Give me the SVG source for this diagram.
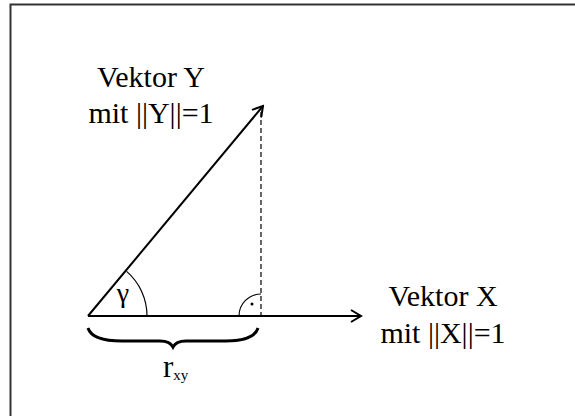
<svg xmlns="http://www.w3.org/2000/svg" width="575" height="416" viewBox="0 0 575 416">
<style>
.t{font-family:"Liberation Serif","Times New Roman",serif;fill:#000;}
.lbl{font-size:30px;text-anchor:middle;}
.vec{stroke:#000;stroke-width:2;fill:none;}
.thin{stroke:#000;stroke-width:1.2;fill:none;}
</style>
<defs>
<marker id="arr" markerWidth="14" markerHeight="14" refX="12" refY="7" orient="auto" markerUnits="userSpaceOnUse">
<path d="M2,1 L12,7 L2,13" fill="none" stroke="#000" stroke-width="2"/>
</marker>
</defs>
<rect width="575" height="416" fill="#fff"/>
<path d="M10.5,416 V4.5 H575" fill="none" stroke="#333" stroke-width="2"/>
<g id="connectors">
<line class="vec" x1="88" y1="316" x2="361" y2="316" marker-end="url(#arr)"/>
<line class="vec" x1="88" y1="316" x2="263" y2="106" marker-end="url(#arr)"/>
<line class="thin" x1="261" y1="112" x2="261" y2="316" stroke-dasharray="5,3"/>
</g>
<g id="angle-gamma">
<path class="thin" d="M147,316 A59,59 0 0 0 126.6,271.4"/>
<text class="t" x="123" y="302" font-size="28" text-anchor="middle">γ</text>
</g>
<g id="right-angle">
<path class="thin" d="M239,316 A22,22 0 0 1 261,294"/>
<circle cx="252" cy="304" r="1.5" fill="#000"/>
</g>
<g id="brace">
<path d="M88,328 Q92,341 122,341 L160,341 Q170,341 173,347 Q176,341 186,341 L226,341 Q254,341 258,328" fill="none" stroke="#000" stroke-width="3"/>
</g>
<g id="label-rxy">
<text class="t" x="163" y="377" font-size="31">r<tspan font-size="15" dy="2.5">xy</tspan></text>
</g>
<g id="label-y">
<text class="t lbl" x="151" y="87">Vektor Y</text>
<text class="t lbl" x="151" y="123">mit ||Y||=1</text>
</g>
<g id="label-x">
<text class="t lbl" x="443" y="306">Vektor X</text>
<text class="t lbl" x="443" y="343">mit ||X||=1</text>
</g>
</svg>
